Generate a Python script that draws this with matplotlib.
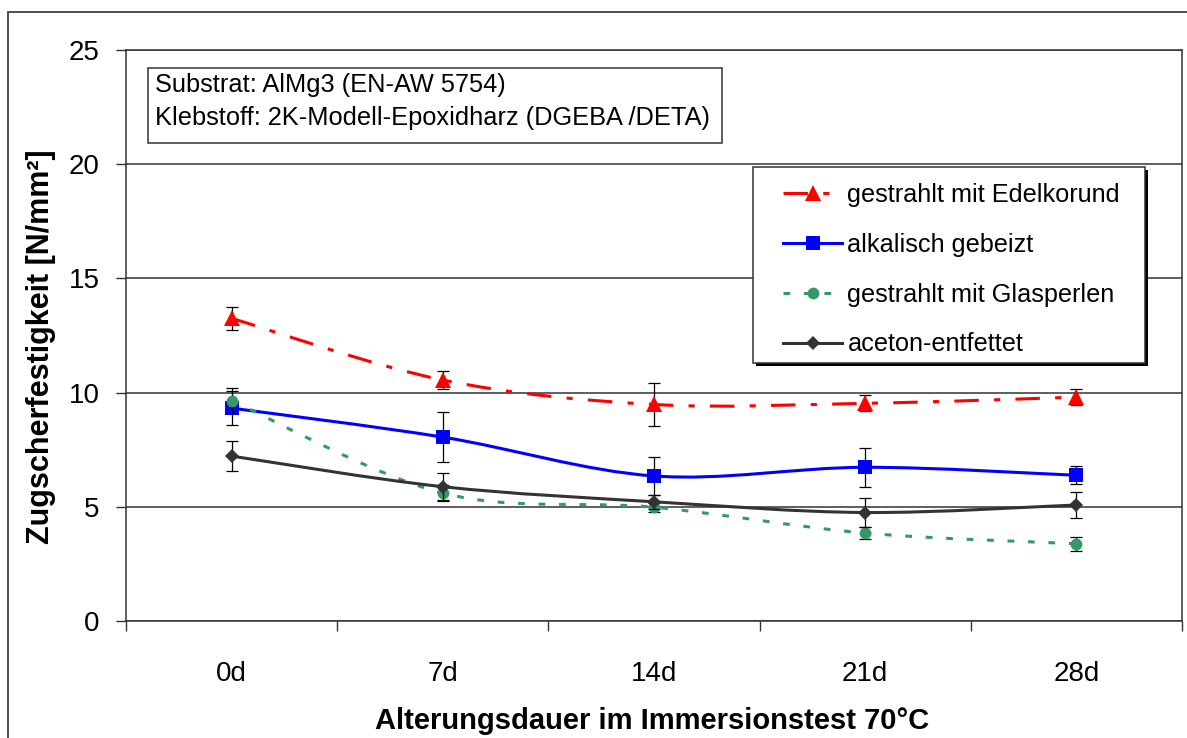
import numpy as np
import matplotlib
matplotlib.use("Agg")
import matplotlib.pyplot as plt
from matplotlib.path import Path
from matplotlib.patches import PathPatch, Rectangle
from matplotlib.lines import Line2D

plt.rcParams['font.family'] = ['Liberation Sans', 'DejaVu Sans']

# ---- data -------------------------------------------------------------
categories = ["0d", "7d", "14d", "21d", "28d"]

edelkorund = [13.25, 10.55, 9.48, 9.53, 9.8]
edelkorund_err = [0.5, 0.4, 0.95, 0.35, 0.35]

alkalisch = [9.32, 8.05, 6.35, 6.73, 6.38]
alkalisch_err = [0.75, 1.1, 0.85, 0.85, 0.4]

glasperlen = [9.65, 5.6, 4.98, 3.85, 3.38]
glasperlen_err = [0.55, 0.35, 0.2, 0.25, 0.3]

aceton = [7.22, 5.88, 5.22, 4.75, 5.08]
aceton_err = [0.65, 0.6, 0.3, 0.62, 0.55]

series_labels = ["gestrahlt mit Edelkorund", "alkalisch gebeizt",
                 "gestrahlt mit Glasperlen", "aceton-entfettet"]

y_ticks = [0, 5, 10, 15, 20, 25]

# ---- figure -----------------------------------------------------------
W, H = 1187, 738
fig = plt.figure(figsize=(W / 100, H / 100), dpi=100)


def fx(px):
    return px / W


def fy(py):
    return 1 - py / H


# outer chart frame
fig.patches.append(Rectangle((fx(8), fy(H + 10)), fx(W + 10) - fx(8), fy(12) - fy(H + 10),
                             transform=fig.transFigure, fill=False,
                             edgecolor="#404040", linewidth=1.3, zorder=0))

ax = fig.add_axes([fx(126), fy(621), fx(1182) - fx(126), fy(50) - fy(621)])
ax.set_xlim(-0.5, 4.5)
ax.set_ylim(0, 25)

grid_c = "#333333"
for s in ax.spines.values():
    s.set_color(grid_c)
    s.set_linewidth(1.1)

ax.set_yticks(y_ticks)
ax.yaxis.grid(True, color=grid_c, linewidth=1.1)
ax.set_axisbelow(True)
ax.tick_params(axis="y", direction="out", length=7, width=1.0, color=grid_c,
               labelsize=20, pad=12)

x = np.arange(len(categories))
ax.set_xticks(np.arange(-0.5, 4.6, 1.0))
ax.set_xticklabels([])
ax.set_xticks(x, minor=True)
ax.set_xticklabels(categories, minor=True)
ax.tick_params(axis="x", which="major", direction="out", length=7, width=1.0, color=grid_c)
ax.tick_params(axis="x", which="minor", length=0, labelsize=20, pad=29)

ax.set_ylabel("Zugscherfestigkeit [N/mm²]", fontsize=22, fontweight="bold")
ax.yaxis.set_label_coords(-0.066, 0.48)
ax.set_xlabel("Alterungsdauer im Immersionstest 70°C", fontsize=21, fontweight="bold")
ax.xaxis.set_label_coords(0.498, -0.151)


def smooth_path(xs, ys):
    """Cubic Bezier path through the points (Catmull-Rom style tangents)."""
    pts = np.column_stack([xs, ys]).astype(float)
    n = len(pts)
    verts = [pts[0]]
    codes = [Path.MOVETO]
    for i in range(n - 1):
        p_prev = pts[i - 1] if i > 0 else pts[i]
        p0, p1 = pts[i], pts[i + 1]
        p_next = pts[i + 2] if i + 2 < n else pts[i + 1]
        c1 = p0 + (p1 - p_prev) / 6.0
        c2 = p1 - (p_next - p0) / 6.0
        verts += [c1, c2, p1]
        codes += [Path.CURVE4] * 3
    return Path(verts, codes)


styles = [
    dict(color="#ff0000", marker="^", ms=11.5, ls=(0, (8, 5, 2, 5))),
    dict(color="#0000ff", marker="s", ms=9.5, ls="solid"),
    dict(color="#339966", marker="o", ms=8.5, ls=(0, (2.2, 4.5))),
    dict(color="#333333", marker="D", ms=7.5, ls="solid"),
]
values = [edelkorund, alkalisch, glasperlen, aceton]
errors = [edelkorund_err, alkalisch_err, glasperlen_err, aceton_err]

lw = 2.2
handles = []
for k, (vals, errs, st) in enumerate(zip(values, errors, styles)):
    z = 3 + k
    ax.errorbar(x, vals, yerr=errs, fmt="none", ecolor="black", elinewidth=0.9,
                capsize=4, capthick=0.9, zorder=z)
    ax.add_patch(PathPatch(smooth_path(x, vals), fill=False, edgecolor=st["color"],
                           linewidth=lw, linestyle=st["ls"], capstyle="butt", zorder=z))
    ax.plot(x, vals, linestyle="none", marker=st["marker"], ms=st["ms"],
            color=st["color"], markeredgewidth=0, zorder=z + 0.5)
    handles.append(Line2D([], [], color=st["color"], linewidth=lw, linestyle=st["ls"],
                          marker=st["marker"], ms=st["ms"], markeredgewidth=0))

# info box
fig.patches.append(Rectangle((fx(148), fy(143)), fx(722) - fx(148), fy(68) - fy(143),
                             transform=fig.transFigure, facecolor="white",
                             edgecolor="#333333", linewidth=1.1, zorder=5))
fig.text(fx(155), fy(92), "Substrat: AlMg3 (EN-AW 5754)", fontsize=18.3,
         va="baseline", ha="left", zorder=6)
fig.text(fx(155), fy(125), "Klebstoff: 2K-Modell-Epoxidharz (DGEBA /DETA)", fontsize=18.3,
         va="baseline", ha="left", zorder=6)

# legend box with drop shadow
fig.patches.append(Rectangle((fx(756), fy(366)), fx(1148) - fx(756), fy(170) - fy(366),
                             transform=fig.transFigure, facecolor="black",
                             edgecolor="none", zorder=5))
fig.patches.append(Rectangle((fx(753), fy(363)), fx(1145) - fx(753), fy(167) - fy(363),
                             transform=fig.transFigure, facecolor="white",
                             edgecolor="#333333", linewidth=1.1, zorder=5))
leg = ax.legend(handles, series_labels, loc="upper left",
                bbox_to_anchor=(fx(783), fy(183)), bbox_transform=fig.transFigure,
                frameon=False, fontsize=18.2, handlelength=2.35, handletextpad=0.2,
                labelspacing=1.02, borderpad=0, borderaxespad=0, numpoints=1)
leg.remove()
fig.add_artist(leg)
leg.set_zorder(7)

fig.savefig("out.png", dpi=100)
